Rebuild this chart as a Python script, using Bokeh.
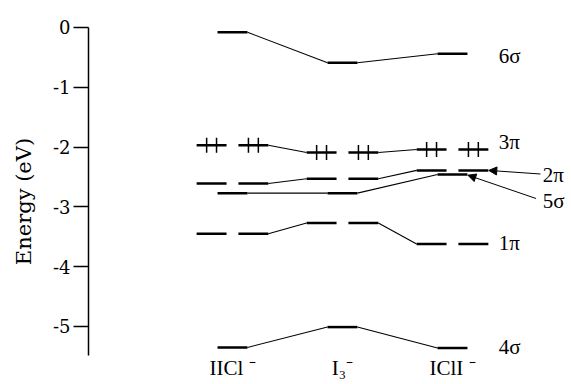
from math import pi
from bokeh.plotting import figure
from bokeh.models import Range1d, FixedTicker, Arrow, NormalHead
from bokeh.core.properties import value
from bokeh.embed import file_html
from bokeh.resources import INLINE

# ---- data -------------------------------------------------------------
categories = ["IICl ⁻", "I₃⁻", "IClI ⁻"]
cat_x = [0, 1, 2]
orbitals = ["6σ", "3π", "2π", "5σ", "1π", "4σ"]
degenerate = [False, True, True, False, True, False]
plus_marks = [False, True, False, False, False, False]
e_6s = [-0.08, -0.59, -0.44]
e_3p = [-1.97, -2.09, -2.04]
e_2p = [-2.61, -2.53, -2.39]
e_5s = [-2.77, -2.77, -2.46]
e_1p = [-3.45, -3.27, -3.62]
e_4s = [-5.35, -5.01, -5.36]
energies = [e_6s, e_3p, e_2p, e_5s, e_1p, e_4s]
y_ticks = [0, -1, -2, -3, -4, -5]

# ---- layout constants -------------------------------------------------
HW = 0.136    # half width of a level bar
OFF = 0.19    # offset of each bar of a degenerate pair
MK = 0.045    # offset of "+" marks from bar centre
FONT = "Liberation Serif"

p = figure(width=571, height=384, x_range=Range1d(-1.309, 3.082),
           y_range=Range1d(-5.97, 0.15), output_backend="svg",
           toolbar_location=None, x_axis_location=None,
           min_border_left=88, min_border_right=0, min_border_top=18,
           min_border_bottom=0)
p.grid.visible = False
p.outline_line_color = None
p.background_fill_color = "white"
p.border_fill_color = "white"

bx0, bx1, by = [], [], []
cx0, cx1, cy0, cy1 = [], [], [], []
mx, my = [], []
for e, deg, pm in zip(energies, degenerate, plus_marks):
    offs = [-OFF, OFF] if deg else [0.0]
    for xc, yv in zip(cat_x, e):
        for o in offs:
            bx0.append(xc + o - HW)
            bx1.append(xc + o + HW)
            by.append(yv)
            if pm:
                mx += [xc + o - MK, xc + o + MK]
                my += [yv, yv]
    a = OFF if deg else 0.0
    for i in range(len(cat_x) - 1):
        cx0.append(cat_x[i] + a + HW)
        cx1.append(cat_x[i + 1] - a - HW)
        cy0.append(e[i])
        cy1.append(e[i + 1])

p.segment(x0=cx0, x1=cx1, y0=cy0, y1=cy1, line_color="black", line_width=1.1)
p.segment(x0=bx0, x1=bx1, y0=by, y1=by, line_color="black", line_width=2.5)
p.scatter(x=mx, y=my, marker="dash", angle=pi / 2, size=15,
          line_color="black", line_width=1.5)

# orbital labels
lab_x = [2.42, 2.42, 2.82, 2.82, 2.42, 2.42]
lab_y = [-0.47, -1.92, -2.46, -2.90, -3.61, -5.35]
p.text(x=lab_x, y=lab_y, text=orbitals, text_align="left",
       text_baseline="middle", text_font=value(FONT),
       text_font_size="21px", text_color="black")

# arrows for 2π and 5σ
for (xs, ys, xe, ye) in [(2.80, -2.45, 2.33, -2.39), (2.76, -2.86, 2.14, -2.47)]:
    p.add_layout(Arrow(x_start=xs, y_start=ys, x_end=xe, y_end=ye,
                       line_width=1, line_color="black",
                       end=NormalHead(size=8, fill_color="black", line_color="black")))

# category labels
p.text(x=cat_x, y=[-5.70] * 3, text=categories, text_align="center",
       text_baseline="middle", text_font=value(FONT),
       text_font_size="21px", text_color="black")

ax = p.yaxis[0]
ax.ticker = FixedTicker(ticks=y_ticks)
ax.major_label_overrides = {t: str(t) for t in y_ticks}
ax.bounds = (-5.48, 0)
ax.major_tick_out = 15
ax.major_tick_in = 0
ax.minor_tick_line_color = None
ax.axis_line_color = "black"
ax.major_tick_line_color = "black"
ax.axis_line_width = 1.5
ax.major_tick_line_width = 1.5
ax.major_label_standoff = 3
ax.major_label_text_font = "DejaVu Serif"
ax.major_label_text_font_size = "18px"
ax.major_label_text_color = "black"
ax.axis_label = "Energy (eV)"
ax.axis_label_text_font = "DejaVu Serif"
ax.axis_label_text_font_style = "normal"
ax.axis_label_text_font_size = "21px"
ax.axis_label_text_color = "black"
ax.axis_label_standoff = 14

open("out.html", "w").write(file_html(p, INLINE))
